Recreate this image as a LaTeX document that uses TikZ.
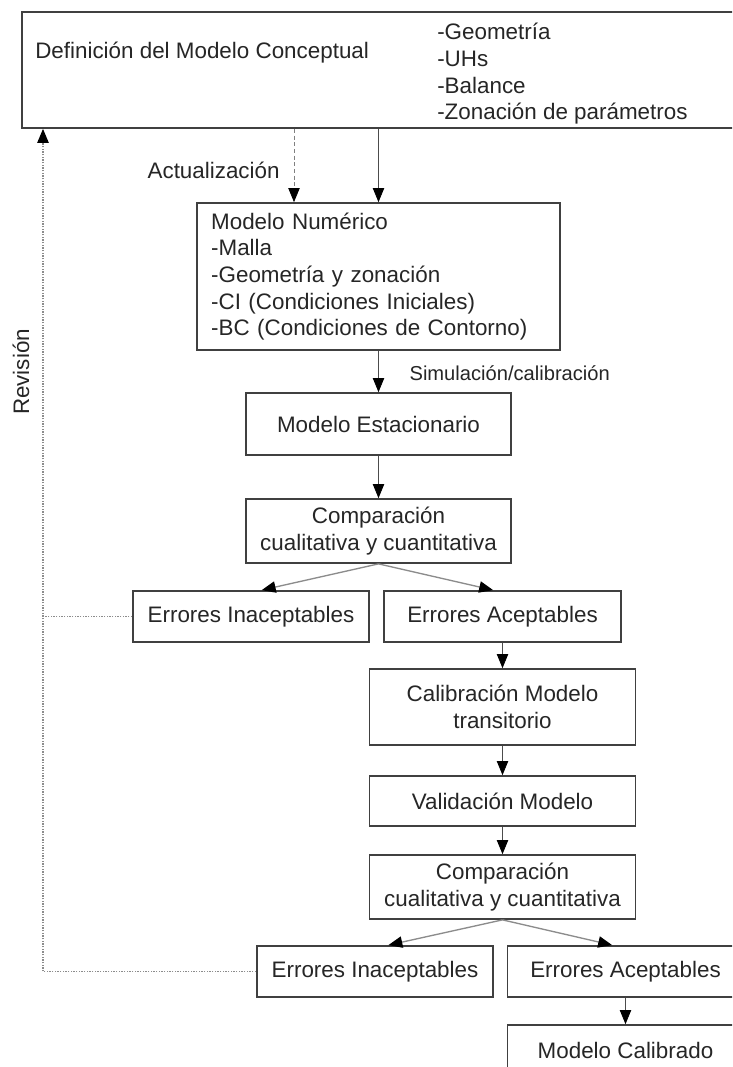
\documentclass[tikz,border=0pt]{standalone}
\usepackage{fontspec}
\setmainfont{Liberation Sans}
\usetikzlibrary{arrows.meta}

\begin{document}
\begin{tikzpicture}[
    x=0.75pt, y=-0.75pt,
    every node/.style={font=\fontsize{16.8}{20}\selectfont, text=black!85}, % text of all nodes
    box/.style={draw=black!75, line width=1.3pt, rectangle, align=center, inner sep=0pt}, % process boxes
    flow/.style={draw=black!70, line width=0.6pt, -{Triangle[length=10.5pt, width=8.5pt, color=black]}}, % main arrows
    split/.style={flow, draw=black!45, line width=1pt}, % arrows to the error boxes
    upd/.style={flow, draw=black!50, densely dashed}, % update arrow
    revline/.style={draw=black!45, line width=1pt, densely dotted} % revision loop
    ]
    \useasboundingbox (0,0) rectangle (732,1067);
    \clip (0,0) rectangle (732,1067);
    \fill[white] (0,0) rectangle (732,1067);

    % boxes
    \node[box, minimum width=553.5pt, minimum height=87pt] (concept) at (391,70) {};
    \node[anchor=west, inner sep=0pt] (concepttitle) at (35,53) {Definición del Modelo Conceptual};
    \node[anchor=west, align=left, inner sep=0pt] (conceptlist) at (437,74)
        {-Geometría\\-UHs\\-Balance\\-Zonación de parámetros};
    \node[box, minimum width=272.25pt, minimum height=110.25pt, text width=251pt, align=left] (num) at (378.5,276.5)
        {Modelo Numérico\\-Malla\\-Geometría y zonación\\-CI (Condiciones Iniciales)\\-BC (Condiciones de Contorno)};
    \node[box, minimum width=198.75pt, minimum height=46.5pt] (est) at (378.5,424) {Modelo Estacionario};
    \node[box, minimum width=198.75pt, minimum height=48pt] (comp1) at (378.5,531) {Comparación\\cualitativa y cuantitativa};
    \node[box, minimum width=177pt, minimum height=38.25pt] (inac1) at (251,616.5) {Errores Inaceptables};
    \node[box, minimum width=177.75pt, minimum height=38.25pt] (acep1) at (502.5,616.5) {Errores Aceptables};
    \node[box, minimum width=199.5pt, minimum height=57pt] (calib) at (502.5,707) {Calibración Modelo\\transitorio};
    \node[box, minimum width=199.5pt, minimum height=37.5pt] (valid) at (502.5,801) {Validación Modelo};
    \node[box, minimum width=199.5pt, minimum height=48pt] (comp2) at (502.5,887) {Comparación\\cualitativa y cuantitativa};
    \node[box, minimum width=177pt, minimum height=38.25pt] (inac2) at (375,971.5) {Errores Inaceptables};
    \node[box, minimum width=177pt, minimum height=38.25pt] (acep2) at (625.5,971.5) {Errores Aceptables};
    \node[box, minimum width=177pt, minimum height=38.25pt] (final) at (625.5,1050.5) {Modelo Calibrado};
    \node[rotate=90, inner sep=0pt] (revlbl) at (21,372) {Revisión};

    % connectors
    \coordinate (updx) at (294,0);
    \coordinate (revx) at (43,0);
    \draw[upd] (updx |- concept.south) -- node[left=10.5pt, inner sep=0pt, pos=0.56] (updlbl) {Actualización} (updx |- num.north);
    \draw[flow] (concept.south -| num.north) -- (num.north);
    \draw[flow] (num) -- node[right=23pt, inner sep=0pt, pos=0.53, font=\fontsize{15.1}{18}\selectfont] (simlbl) {Simulación/calibración} (est);
    \draw[flow] (est) -- (comp1);
    \draw[split] (comp1.south) -- ([xshift=8pt]inac1.north);
    \draw[split] (comp1.south) -- ([xshift=-7pt]acep1.north);
    \draw[flow] (acep1) -- (calib);
    \draw[flow] (calib) -- (valid);
    \draw[flow] (valid) -- (comp2);
    \draw[split] (comp2.south) -- ([xshift=10pt]inac2.north);
    \draw[split] (comp2.south) -- ([xshift=-10pt]acep2.north);
    \draw[flow] (acep2) -- (final);
    \draw[revline] (inac1.west) -- (inac1.west -| revx);
    \draw[revline, -{Triangle[length=10.5pt, width=8.5pt, color=black]}] (inac2.west) -- (inac2.west -| revx) -- (revx |- concept.south);
\end{tikzpicture}
\end{document}
